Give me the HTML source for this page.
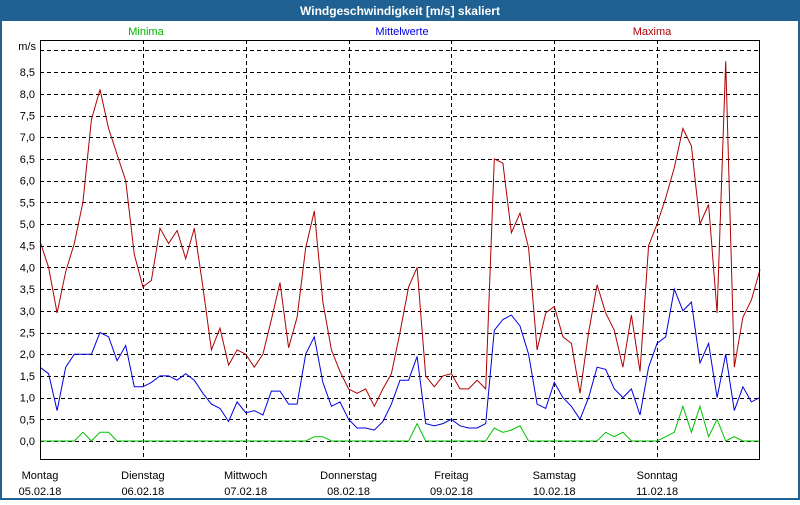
<!DOCTYPE html>
<html><head><meta charset="utf-8"><style>
html,body{margin:0;padding:0;background:#fff;}
body{width:800px;height:500px;overflow:hidden;}
svg text{font-family:"Liberation Sans",sans-serif;font-size:11px;}
</style></head><body>
<svg id="chart" width="800" height="500" viewBox="0 0 800 500" xmlns="http://www.w3.org/2000/svg">
<rect x="1" y="1" width="798" height="498" fill="#fff" stroke="#1e6192" stroke-width="2"/>
<rect x="0" y="0" width="800" height="21" fill="#1e6192"/>
<text x="400" y="15" text-anchor="middle" fill="#fff" font-weight="bold" style="font-size:12px">Windgeschwindigkeit [m/s] skaliert</text>
<text x="146" y="35" text-anchor="middle" fill="#00b000">Minima</text>
<text x="402" y="35" text-anchor="middle" fill="#0000e0">Mittelwerte</text>
<text x="652" y="35" text-anchor="middle" fill="#b00000">Maxima</text>
<text x="36" y="50" text-anchor="end" fill="#000">m/s</text>
<g id="grid"></g>
<g id="series"></g>
<rect x="40.5" y="40.5" width="719" height="419" fill="none" stroke="#000" stroke-width="1"/>
<g id="labels"></g>
</svg>
<script>
const dayNames = ["Montag","Dienstag","Mittwoch","Donnerstag","Freitag","Samstag","Sonntag"];
const dayDates = ["05.02.18","06.02.18","07.02.18","08.02.18","09.02.18","10.02.18","11.02.18"];
const yTicks = [0,0.5,1,1.5,2,2.5,3,3.5,4,4.5,5,5.5,6,6.5,7,7.5,8,8.5];
const maxima = [4.6,4.0,2.95,3.9,4.55,5.5,7.4,8.1,7.2,6.6,6.0,4.3,3.55,
3.7,4.9,4.55,4.85,4.2,4.9,3.55,2.1,2.6,1.75,2.1,2.0,
1.7,2.0,2.8,3.65,2.15,2.85,4.45,5.3,3.2,2.1,1.6,1.2,
1.1,1.2,0.8,1.2,1.55,2.5,3.55,4.0,1.5,1.25,1.5,1.55,
1.2,1.2,1.4,1.2,6.5,6.4,4.8,5.25,4.45,2.1,2.95,3.1,
2.4,2.25,1.1,2.5,3.6,2.95,2.55,1.7,2.9,1.6,4.5,5.0,
5.6,6.3,7.2,6.8,5.0,5.45,2.95,8.75,1.7,2.85,3.25,3.95];
const means = [1.7,1.55,0.7,1.7,2.0,2.0,2.0,2.5,2.4,1.85,2.2,1.25,1.25,
1.35,1.5,1.5,1.4,1.55,1.4,1.1,0.85,0.75,0.45,0.9,0.65,
0.7,0.6,1.15,1.15,0.85,0.85,2.0,2.4,1.35,0.8,0.9,0.5,
0.3,0.3,0.25,0.45,0.85,1.4,1.4,1.95,0.4,0.35,0.4,0.5,
0.35,0.3,0.3,0.4,2.55,2.8,2.9,2.65,2.0,0.85,0.75,1.35,
1.0,0.8,0.5,1.0,1.7,1.65,1.2,1.0,1.2,0.6,1.7,2.25,
2.4,3.5,3.0,3.2,1.8,2.25,1.0,2.0,0.7,1.25,0.9,1.0];
const minima = [0,0,0,0,0,0.2,0,0.2,0.2,0,0,0,0,
0,0,0,0,0,0,0,0,0,0,0,0,
0,0,0,0,0,0,0,0.1,0.1,0,0,0,
0,0,0,0,0,0,0,0.4,0,0,0,0,
0,0,0,0,0.3,0.2,0.25,0.35,0,0,0,0,
0,0,0,0,0,0.2,0.1,0.2,0,0,0,0,
0.1,0.2,0.8,0.2,0.8,0.1,0.5,0,0.1,0,0,0];
const X0=40,X1=760,Y0=441,PER=43.4;
const xScale=i=>X0+(X1-X0)*i/(maxima.length-1);
const xDay=d=>X0+(X1-X0)*d/7;
const yScale=v=>Y0-v*PER;
const NS="http://www.w3.org/2000/svg";
const grid=document.getElementById('grid');
const labels=document.getElementById('labels');
function mk(tag,attrs,parent){const e=document.createElementNS(NS,tag);for(const k in attrs)e.setAttribute(k,attrs[k]);parent.appendChild(e);return e;}
[...yTicks,9].forEach(v=>{
  const y=Math.round(yScale(v))+0.5;
  const l=mk('line',{x1:X0,x2:X1,y1:y,y2:y,stroke:'#000','stroke-dasharray':'4,3'},grid);
  
  
});
yTicks.forEach(v=>{
  const t=mk('text',{x:35,y:yScale(v)+4,'text-anchor':'end',fill:'#000'},labels);
  t.textContent=v.toFixed(1).replace('.',',');
  
  
});
for(let d=1;d<7;d++){
  const x=Math.round(xDay(d))+0.5;
  const l=mk('line',{x1:x,x2:x,y1:40,y2:460,stroke:'#000','stroke-dasharray':'4,3'},grid);
  
  
}
dayNames.forEach((n,d)=>{
  const x=xDay(d);
  const t=mk('text',{x:x,y:479,'text-anchor':'middle',fill:'#000'},labels);
  t.textContent=n;
  
  
  const t2=mk('text',{x:x,y:495,'text-anchor':'middle',fill:'#000'},labels);
  t2.textContent=dayDates[d];
  
  
});
const series=document.getElementById('series');
function line(arr,color,name){
  const pts=arr.map((v,i)=>xScale(i).toFixed(1)+','+yScale(v).toFixed(1)).join(' ');
  const p=mk('polyline',{points:pts,fill:'none',stroke:color,'stroke-width':1},series);
  
  
}
line(minima,'#00c000','minima-line');
line(means,'#0000e0','mean-line');
line(maxima,'#b00000','maxima-line');
</script>
</body></html>
